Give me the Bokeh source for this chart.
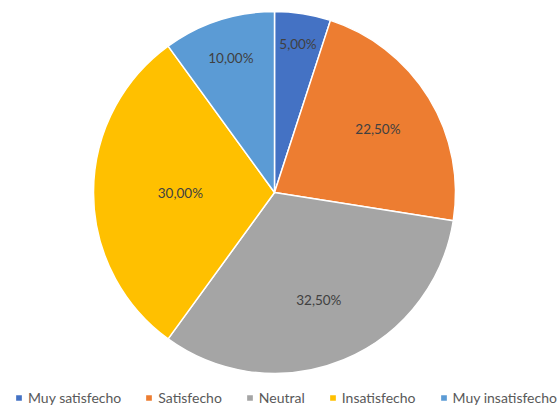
import math
from bokeh.plotting import figure
from bokeh.models import ColumnDataSource, Legend, LegendItem
from bokeh.core.properties import value
from bokeh.embed import file_html
from bokeh.resources import INLINE

categories = ["Muy satisfecho", "Satisfecho", "Neutral", "Insatisfecho", "Muy insatisfecho"]
percentages = [5.0, 22.5, 32.5, 30.0, 10.0]
colors = ["#4472C4", "#ED7D31", "#A5A5A5", "#FFC000", "#5B9BD5"]
# radial placement of each data label (fraction of radius)
label_r = [0.83, 0.67, 0.64, 0.52, 0.78]

W, H = 560, 408
cx, cy, R = 274, H - 192, 181

total = sum(percentages)
starts, ends, lx, ly, texts = [], [], [], [], []
cum = 0.0
for v, fr in zip(percentages, label_r):
    a0 = math.pi / 2 - 2 * math.pi * cum / total
    a1 = math.pi / 2 - 2 * math.pi * (cum + v) / total
    starts.append(a1)
    ends.append(a0)
    mid = (a0 + a1) / 2
    lx.append(cx + fr * R * math.cos(mid))
    ly.append(cy + fr * R * math.sin(mid))
    texts.append(f"{v:.2f}%".replace(".", ","))
    cum += v

src = ColumnDataSource(dict(cat=categories, start=starts, end=ends, color=colors,
                            x=[cx] * 5, y=[cy] * 5, lx=lx, ly=ly, txt=texts))

p = figure(width=W, height=H, x_range=(0, W), y_range=(0, H),
           output_backend="svg", toolbar_location=None, min_border=0)
p.axis.visible = False
p.grid.visible = False
p.outline_line_color = None
p.background_fill_color = "white"
p.border_fill_color = "white"

r = p.wedge(x="x", y="y", radius=R, start_angle="start", end_angle="end",
            fill_color="color", line_color="white", line_width=1.5, source=src)
p.text(x="lx", y="ly", text="txt", source=src, text_align="center", text_baseline="middle",
       text_font=value("Lato"), text_font_size="13.5px", text_color="#404040")

legend = Legend(items=[LegendItem(label=c, renderers=[r], index=i) for i, c in enumerate(categories)],
                location=(14, 2), orientation="horizontal")
legend.glyph_width = 9
legend.glyph_height = 9
legend.label_standoff = 5
legend.spacing = 23
legend.padding = 0
legend.margin = 0
legend.label_height = 14
legend.label_text_font = "Lato"
legend.label_text_font_size = "14px"
legend.label_text_color = "#595959"
legend.border_line_color = None
legend.background_fill_alpha = 0
p.add_layout(legend, "center")

open("out.html", "w").write(file_html(p, INLINE))
